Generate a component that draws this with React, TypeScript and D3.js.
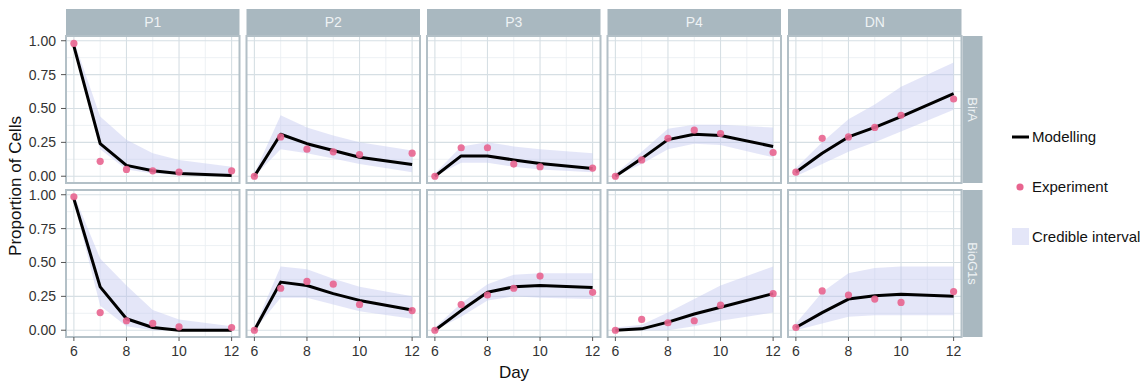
import React from 'react';
import * as d3 from 'd3';

const days = [6, 7, 8, 9, 10, 12];
const populations = ['P1', 'P2', 'P3', 'P4', 'DN'];
const constructs = ['BirA', 'BioG1s'];
const yTicks = [0, 0.25, 0.5, 0.75, 1];
const xTicks = [6, 8, 10, 12];

// BirA row, one array per population (days 6,7,8,9,10,12)
const birAModel = [
  [0.96, 0.24, 0.08, 0.04, 0.02, 0.005],
  [0.0, 0.31, 0.24, 0.19, 0.14, 0.086],
  [0.0, 0.15, 0.15, 0.12, 0.094, 0.057],
  [0.0, 0.13, 0.27, 0.31, 0.3, 0.22],
  [0.03, 0.17, 0.29, 0.36, 0.44, 0.61],
];
const birAExp = [
  [0.98, 0.11, 0.05, 0.04, 0.03, 0.04],
  [0.0, 0.29, 0.2, 0.18, 0.16, 0.17],
  [0.0, 0.21, 0.21, 0.09, 0.07, 0.06],
  [0.0, 0.12, 0.28, 0.34, 0.315, 0.175],
  [0.03, 0.28, 0.29, 0.36, 0.45, 0.57],
];
const birALow = [
  [0.94, 0.2, 0.05, 0.02, 0.01, 0.0],
  [0.0, 0.2, 0.17, 0.13, 0.09, 0.03],
  [0.0, 0.1, 0.1, 0.07, 0.05, 0.03],
  [0.0, 0.09, 0.2, 0.24, 0.23, 0.14],
  [0.0, 0.09, 0.18, 0.25, 0.33, 0.49],
];
const birAHigh = [
  [1.0, 0.44, 0.27, 0.17, 0.12, 0.07],
  [0.02, 0.45, 0.36, 0.3, 0.25, 0.19],
  [0.02, 0.22, 0.25, 0.22, 0.2, 0.17],
  [0.02, 0.18, 0.35, 0.38, 0.38, 0.36],
  [0.06, 0.25, 0.42, 0.53, 0.66, 0.84],
];

// BioG1s row
const bioModel = [
  [0.97, 0.32, 0.085, 0.02, 0.0, 0.0],
  [0.0, 0.355, 0.33, 0.27, 0.22, 0.15],
  [0.0, 0.145, 0.28, 0.32, 0.33, 0.315],
  [0.0, 0.01, 0.06, 0.12, 0.17, 0.27],
  [0.02, 0.13, 0.23, 0.255, 0.265, 0.25],
];
const bioExp = [
  [0.985, 0.13, 0.07, 0.05, 0.025, 0.02],
  [0.0, 0.31, 0.36, 0.34, 0.19, 0.145],
  [0.0, 0.19, 0.26, 0.31, 0.4, 0.28],
  [0.0, 0.08, 0.055, 0.07, 0.185, 0.27],
  [0.02, 0.29, 0.26, 0.23, 0.205, 0.285],
];
const bioLow = [
  [0.95, 0.18, 0.03, 0.0, 0.0, 0.0],
  [0.0, 0.24, 0.24, 0.19, 0.14, 0.085],
  [0.0, 0.1, 0.22, 0.25, 0.24, 0.23],
  [0.0, 0.0, 0.0, 0.03, 0.07, 0.13],
  [0.0, 0.05, 0.1, 0.11, 0.11, 0.11],
];
const bioHigh = [
  [1.0, 0.53, 0.33, 0.15, 0.08, 0.03],
  [0.02, 0.47, 0.45, 0.38, 0.32, 0.25],
  [0.02, 0.2, 0.34, 0.41, 0.42, 0.42],
  [0.02, 0.04, 0.13, 0.23, 0.33, 0.47],
  [0.05, 0.28, 0.42, 0.46, 0.47, 0.47],
];

const rowData = [
  { model: birAModel, exp: birAExp, low: birALow, high: birAHigh },
  { model: bioModel, exp: bioExp, low: bioLow, high: bioHigh },
];

const W = 1147;
const H = 384;
const panelLeft = 66;
const panelW = 173.5;
const gapX = 7;
const rowTops = [36, 190];
const panelH = 147;
const stripTop = 9;
const stripH = 26;
const stripFill = '#a9b8c0';
const ribbonFill = '#c3c8f0';
const font = 'Liberation Sans, Arial, sans-serif';

const x = d3.scaleLinear().domain([5.7, 12.3]).range([0, panelW]);
const y = d3.scaleLinear().domain([-0.05, 1.035]).range([panelH, 0]);

const line = d3.line<number>().x((_, i) => x(days[i])).y(d => y(d));

function Panel({ col, row }: { col: number; row: number }) {
  const d = rowData[row];
  const model = d.model[col];
  const exp = d.exp[col];
  const low = d.low[col];
  const high = d.high[col];
  const area = d3.area<number>()
    .x(i => x(days[i]))
    .y0(i => y(low[i]))
    .y1(i => y(high[i]));
  const minorX = [7, 9, 11];
  const minorY = [0.125, 0.375, 0.625, 0.875];
  return (
    <g transform={`translate(${panelLeft + col * (panelW + gapX)},${rowTops[row]})`}>
      <rect width={panelW} height={panelH} fill="#fff" />
      {minorX.map(v => (
        <line key={'mx' + v} x1={x(v)} x2={x(v)} y1={0} y2={panelH} stroke="#e9eef1" strokeWidth={0.8} />
      ))}
      {minorY.map(v => (
        <line key={'my' + v} x1={0} x2={panelW} y1={y(v)} y2={y(v)} stroke="#e9eef1" strokeWidth={0.8} />
      ))}
      {xTicks.map(v => (
        <line key={'gx' + v} x1={x(v)} x2={x(v)} y1={0} y2={panelH} stroke="#d6dfe4" strokeWidth={1.1} />
      ))}
      {yTicks.map(v => (
        <line key={'gy' + v} x1={0} x2={panelW} y1={y(v)} y2={y(v)} stroke="#d6dfe4" strokeWidth={1.1} />
      ))}
      <path d={area(d3.range(days.length)) || ''} fill={ribbonFill} opacity={0.45} />
      <path d={line(model) || ''} fill="none" stroke="#000" strokeWidth={3} strokeLinejoin="round" />
      {exp.map((v, i) => (
        <circle key={i} cx={x(days[i])} cy={y(v)} r={3.6} fill="#e8648f" opacity={0.9} />
      ))}
      <rect width={panelW} height={panelH} fill="none" stroke="#b3c0c7" strokeWidth={2} />
    </g>
  );
}

export default function App() {
  const rightX = panelLeft + 5 * panelW + 4 * gapX + 1;
  return (
    <svg width={W} height={H} style={{ display: 'block', position: 'absolute', left: 0, top: 0 }} fontFamily={font}>
      <rect width={W} height={H} fill="#fff" />
      {populations.map((p, c) => (
        <g key={p} transform={`translate(${panelLeft + c * (panelW + gapX)},${stripTop})`}>
          <rect width={panelW} height={stripH} fill={stripFill} />
          <text x={panelW / 2} y={stripH / 2 + 5} textAnchor="middle" fontSize={14} fill="#eef2f4">{p}</text>
        </g>
      ))}
      {constructs.map((c, r) => (
        <g key={c} transform={`translate(${rightX},${rowTops[r]})`}>
          <rect width={20} height={panelH} fill={stripFill} />
          <text transform={`translate(${10 - 5},${panelH / 2}) rotate(90)`} textAnchor="middle" fontSize={13} fill="#eef2f4">{c}</text>
        </g>
      ))}
      {constructs.map((c, r) =>
        populations.map((p, col) => <Panel key={c + p} col={col} row={r} />)
      )}
      {rowTops.map((t, r) => (
        <g key={'ya' + r} transform={`translate(${panelLeft},${t})`}>
          {yTicks.map(v => (
            <g key={v}>
              <line x1={-5} x2={0} y1={y(v)} y2={y(v)} stroke="#555" strokeWidth={1} />
              <text x={-10} y={y(v) + 5} textAnchor="end" fontSize={14} fill="#333">{v.toFixed(2)}</text>
            </g>
          ))}
        </g>
      ))}
      {populations.map((p, c) => (
        <g key={'xa' + p} transform={`translate(${panelLeft + c * (panelW + gapX)},${rowTops[1] + panelH})`}>
          {xTicks.map(v => (
            <g key={v}>
              <line x1={x(v)} x2={x(v)} y1={0} y2={4} stroke="#555" strokeWidth={1} />
              <text x={x(v)} y={19} textAnchor="middle" fontSize={14} fill="#333">{v}</text>
            </g>
          ))}
        </g>
      ))}
      <text x={514} y={378} textAnchor="middle" fontSize={17} fill="#111">Day</text>
      <text transform="translate(21,186) rotate(-90)" textAnchor="middle" fontSize={17} fill="#111">Proportion of Cells</text>
      <g fontSize={15} fill="#111">
        <line x1={1012} x2={1029} y1={137} y2={137} stroke="#000" strokeWidth={3} />
        <text x={1032} y={142}>Modelling</text>
        <circle cx={1020} cy={187} r={3.6} fill="#e8648f" />
        <text x={1032} y={192}>Experiment</text>
        <rect x={1012} y={228} width={17} height={17} fill={ribbonFill} opacity={0.45} />
        <text x={1032} y={242}>Credible interval</text>
      </g>
    </svg>
  );
}
